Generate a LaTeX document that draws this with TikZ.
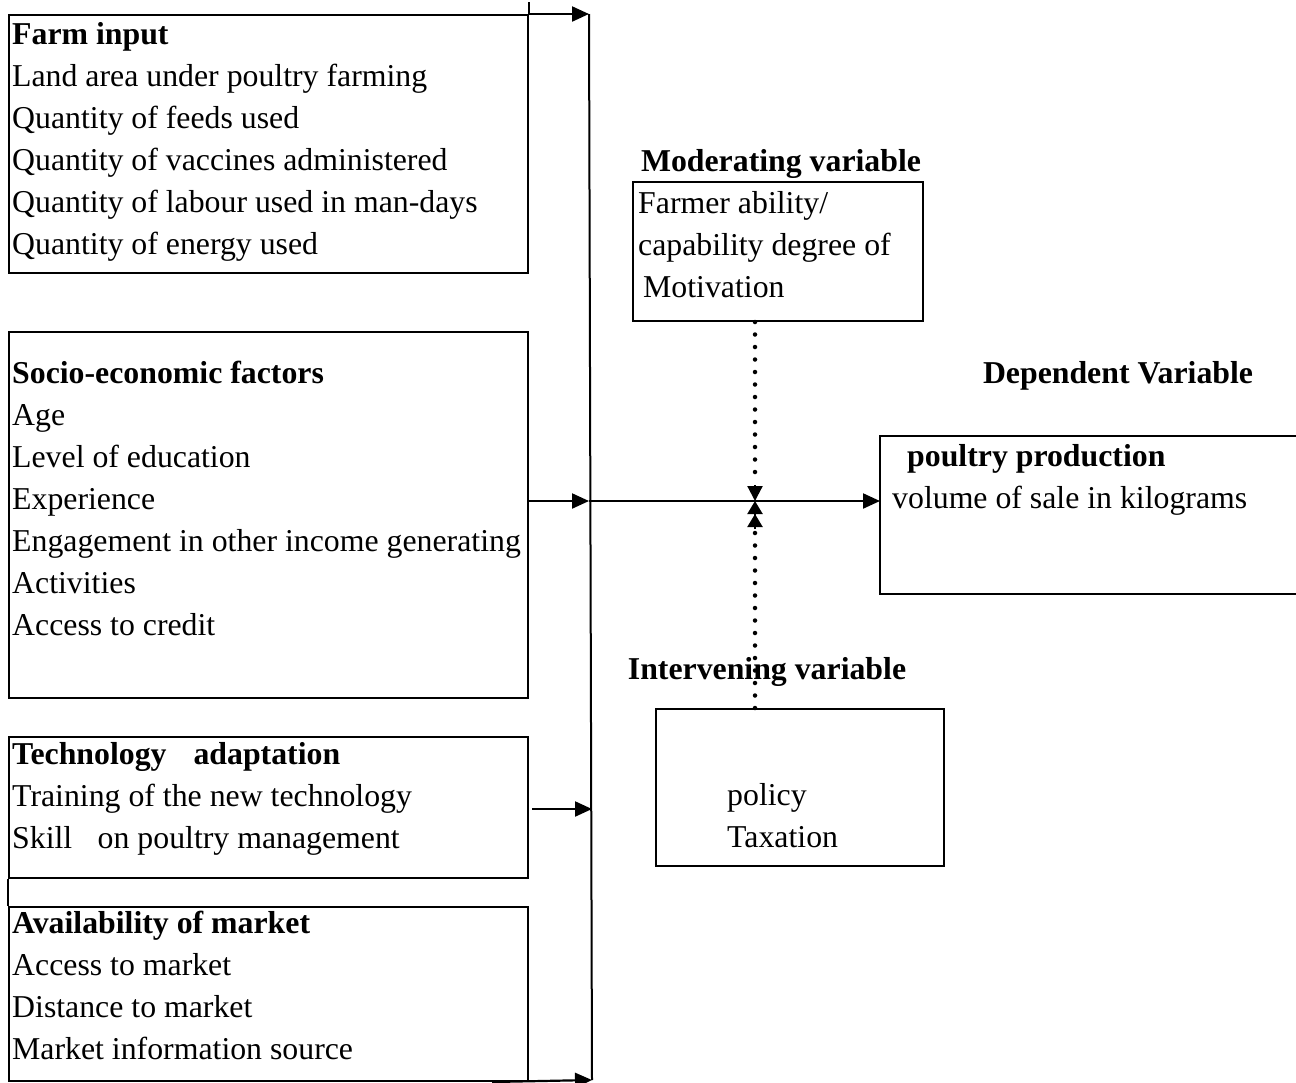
\documentclass[tikz,border=0pt]{standalone}
\usepackage{fontspec}
\setmainfont{Liberation Serif}
\usetikzlibrary{arrows.meta}
\begin{document}
\begin{tikzpicture}[x=1pt,y=-1pt,
  boxst/.style={draw, line width=2pt, anchor=north west, inner sep=0pt},
  txt/.style={anchor=base west, inner sep=0pt, font=\fontsize{31.8}{42}\selectfont},
  hd/.style={anchor=base, inner sep=0pt, font=\fontsize{31.8}{42}\selectfont\bfseries},
  arr/.style={line width=2.2pt, -{Triangle[length=17pt,width=15pt]}},
  tipst/.style={line width=2.2pt, -{Triangle[length=15pt,width=15pt]}},
  dtip/.style={line width=2.2pt, -{Triangle[length=13pt,width=15pt]Triangle[length=13pt,width=15pt]}},
  dots/.style={line width=4.5pt, line cap=round, dash pattern=on 0pt off 12.5pt}
]
\useasboundingbox (0,0) rectangle (1296,1082);

% left boxes
\node[boxst, minimum width=519pt, minimum height=258pt] (b1) at (8,14) {};
\node[boxst, minimum width=519pt, minimum height=366pt] (b2) at (8,331) {};
\node[boxst, minimum width=519pt, minimum height=141pt] (b3) at (8,736) {};
\node[boxst, minimum width=519pt, minimum height=174pt] (b4) at (8,906) {};
\draw[line width=2pt] (b1.north east) -- ([yshift=12pt]b1.north east);
\draw[line width=2pt] (b3.south west) -- (b4.north west);

\node[txt] (t1) at (12,44) {\begin{tabular}[t]{@{}l@{}}\textbf{Farm input}\\
Land area under poultry farming\\
Quantity of feeds used\\
Quantity of vaccines administered\\
Quantity of labour used in man-days\\
Quantity of energy used\end{tabular}};

\node[txt] (t2) at (12,383) {\begin{tabular}[t]{@{}l@{}}\textbf{Socio-economic factors}\\
Age\\
Level of education\\
Experience\\
Engagement in other income generating\\
Activities\\
Access to credit\end{tabular}};

\node[txt] (t3) at (12,764) {\begin{tabular}[t]{@{}l@{}}\textbf{Technology\hspace{0.85em}adaptation}\\
Training of the new technology\\
Skill\hspace{0.8em}on poultry management\end{tabular}};

\node[txt] (t4) at (12,933) {\begin{tabular}[t]{@{}l@{}}\textbf{Availability of market}\\
Access to market\\
Distance to market\\
Market information source\end{tabular}};

% bus
\coordinate (busT) at (589,14);
\coordinate (busB) at (592,1080);
\coordinate (J) at (755,501);
\draw[line width=2pt] (busT) -- (busB);

% moderating
\node[hd] (modh) at (781,171) {Moderating variable};
\node[boxst, minimum width=290pt, minimum height=139pt] (mod) at (632,181) {};
\node[txt] (modt) at (638,213) {\begin{tabular}[t]{@{}l@{}}Farmer ability/\\
capability degree of\\
\hspace{5pt}Motivation\end{tabular}};

% intervening
\node[hd] (inth) at (767,679) {Intervening variable};
\node[boxst, minimum width=288pt, minimum height=157pt] (int) at (655,708) {};
\node[txt] (intt) at (727,805) {\begin{tabular}[t]{@{}l@{}}policy\\Taxation\end{tabular}};

% dependent
\node[hd] (deph) at (1118,383) {Dependent Variable};
\node[anchor=north west, inner sep=0pt, minimum width=420pt, minimum height=158pt] (dep) at (880,436) {};
\draw[line width=2pt] (dep.north east) -- (dep.north west) -- (dep.south west) -- (dep.south east);
\node[txt] (dept) at (892,466) {\begin{tabular}[t]{@{}l@{}}\hspace{15pt}\textbf{poultry production}\\
volume of sale in kilograms\end{tabular}};

% connectors
\draw[arr] (b1.north east) -- (busT);
\draw[arr] (b2.east |- J) -- (busT |- J);
\draw[arr] (busT |- J) -- (dep.west |- J);
\draw[arr] ([xshift=3pt]b3.east |- 0,809) -- (busB |- 0,809);
\draw[arr] ([xshift=-37pt]b4.south east) -- (busB);

\draw[dots] (mod.south -| J) -- ([yshift=18pt]J);
\draw[tipst] ([yshift=16pt]J) -- (J);
\draw[dots] (int.north -| J) -- ([yshift=-32pt]J);
\draw[dtip] ([yshift=-28pt]J) -- (J);
\end{tikzpicture}
\end{document}
